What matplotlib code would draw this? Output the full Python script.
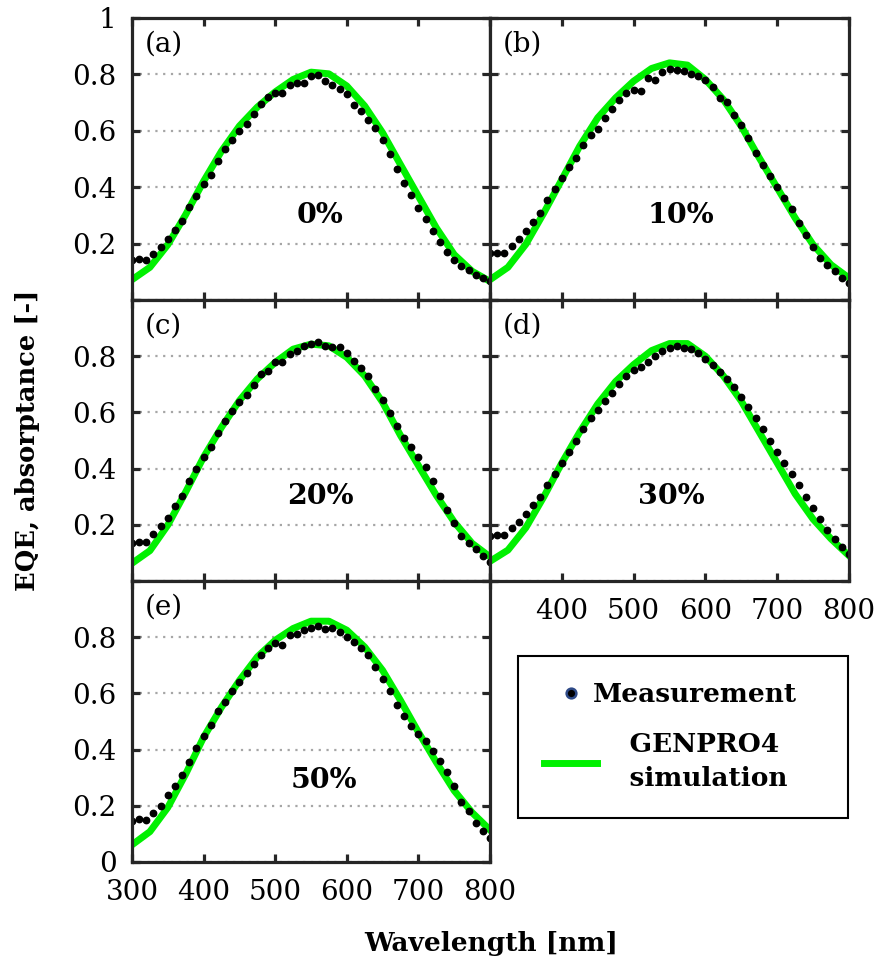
import matplotlib.pyplot as plt
from matplotlib.lines import Line2D

plt.rcParams['font.family'] = ['DejaVu Serif']

# wavelength grids [nm]
wl_meas = list(range(300, 801, 10))
wl_sim = list(range(300, 801, 25))

# measured EQE (dots)
meas_0 = [0.141, 0.144, 0.141, 0.163, 0.187, 0.217, 0.249, 0.280, 0.330, 0.368,
          0.413, 0.443, 0.492, 0.535, 0.568, 0.600, 0.625, 0.659, 0.695, 0.721,
          0.735, 0.733, 0.761, 0.770, 0.768, 0.793, 0.798, 0.778, 0.761, 0.750,
          0.730, 0.693, 0.669, 0.639, 0.609, 0.566, 0.516, 0.464, 0.414, 0.374,
          0.328, 0.286, 0.246, 0.205, 0.169, 0.142, 0.120, 0.105, 0.088, 0.077,
          0.066]
meas_10 = [0.166, 0.168, 0.168, 0.191, 0.215, 0.246, 0.277, 0.310, 0.356, 0.393,
           0.433, 0.472, 0.503, 0.551, 0.585, 0.607, 0.647, 0.679, 0.709, 0.733,
           0.746, 0.741, 0.786, 0.781, 0.808, 0.818, 0.817, 0.812, 0.802, 0.795,
           0.779, 0.756, 0.717, 0.703, 0.656, 0.619, 0.576, 0.523, 0.479, 0.440,
           0.399, 0.361, 0.323, 0.272, 0.231, 0.189, 0.150, 0.125, 0.102, 0.077,
           0.060]
meas_20 = [0.136, 0.139, 0.139, 0.167, 0.195, 0.225, 0.266, 0.301, 0.355, 0.400,
           0.440, 0.476, 0.527, 0.571, 0.605, 0.636, 0.663, 0.697, 0.735, 0.748,
           0.781, 0.779, 0.807, 0.817, 0.835, 0.843, 0.849, 0.838, 0.831, 0.833,
           0.812, 0.783, 0.759, 0.730, 0.683, 0.644, 0.598, 0.551, 0.509, 0.476,
           0.440, 0.405, 0.356, 0.303, 0.251, 0.206, 0.161, 0.136, 0.113, 0.089,
           0.069]
meas_30 = [0.160, 0.165, 0.165, 0.190, 0.210, 0.240, 0.270, 0.300, 0.340, 0.380,
           0.420, 0.460, 0.500, 0.540, 0.580, 0.610, 0.640, 0.670, 0.700, 0.730,
           0.750, 0.760, 0.780, 0.800, 0.820, 0.830, 0.835, 0.830, 0.825, 0.810,
           0.790, 0.770, 0.745, 0.720, 0.690, 0.655, 0.620, 0.580, 0.540, 0.500,
           0.460, 0.420, 0.380, 0.340, 0.300, 0.260, 0.220, 0.180, 0.150, 0.120,
           0.095]
meas_50 = [0.145, 0.152, 0.150, 0.176, 0.200, 0.238, 0.270, 0.308, 0.357, 0.406,
           0.450, 0.486, 0.536, 0.571, 0.607, 0.640, 0.671, 0.704, 0.735, 0.760,
           0.780, 0.773, 0.807, 0.813, 0.825, 0.833, 0.840, 0.829, 0.833, 0.819,
           0.799, 0.783, 0.763, 0.736, 0.694, 0.652, 0.608, 0.560, 0.520, 0.483,
           0.456, 0.431, 0.395, 0.360, 0.319, 0.271, 0.215, 0.182, 0.140, 0.111,
           0.087]

# GENPRO4 simulated absorptance (line)
sim_0 = [0.072, 0.116, 0.196, 0.303, 0.421, 0.528, 0.617, 0.684, 0.738, 0.782, 0.808,
         0.802, 0.759, 0.688, 0.593, 0.480, 0.368, 0.256, 0.161, 0.102, 0.066]
sim_10 = [0.072, 0.116, 0.198, 0.309, 0.427, 0.546, 0.646, 0.717, 0.776, 0.821, 0.841,
          0.833, 0.782, 0.711, 0.616, 0.504, 0.398, 0.291, 0.196, 0.125, 0.078]
sim_20 = [0.063, 0.108, 0.199, 0.317, 0.441, 0.547, 0.642, 0.719, 0.778, 0.825, 0.843,
          0.837, 0.796, 0.730, 0.636, 0.518, 0.411, 0.305, 0.210, 0.134, 0.086]
sim_30 = [0.070, 0.110, 0.190, 0.300, 0.420, 0.530, 0.630, 0.710, 0.770, 0.820, 0.845,
          0.845, 0.800, 0.730, 0.640, 0.530, 0.420, 0.310, 0.220, 0.150, 0.090]
sim_50 = [0.061, 0.108, 0.194, 0.313, 0.444, 0.551, 0.646, 0.730, 0.789, 0.831, 0.857,
          0.857, 0.825, 0.765, 0.682, 0.575, 0.462, 0.355, 0.254, 0.176, 0.114]

panel_tags = ['(a)', '(b)', '(c)', '(d)', '(e)']
porosity = ['0%', '10%', '20%', '30%', '50%']
y_ticks = [0, 0.2, 0.4, 0.6, 0.8, 1.0]
x_ticks = [300, 400, 500, 600, 700, 800]

W, H = 882, 967
fig = plt.figure(figsize=(W / 100, H / 100), dpi=100)

def px_axes(x0, y0, x1, y1):
    return fig.add_axes([x0 / W, 1 - y1 / H, (x1 - x0) / W, (y1 - y0) / H])

dark = '#262626'
green = '#00F000'

boxes = [(132, 18, 490, 300), (490, 18, 849, 300),
         (132, 300, 490, 581), (490, 300, 849, 581),
         (132, 581, 490, 862)]
meas = [meas_0, meas_10, meas_20, meas_30, meas_50]
sims = [sim_0, sim_10, sim_20, sim_30, sim_50]
pct_pos = [(0.525, 0.30), (0.532, 0.30), (0.525, 0.30), (0.505, 0.30), (0.535, 0.29)]

for i, box in enumerate(boxes):
    ax = px_axes(*box)
    ax.plot(wl_sim, sims[i], color=green, lw=5, zorder=2)
    ax.plot(wl_meas, meas[i], 'o', color='black', ms=4.6, zorder=3)
    ax.set_xlim(300, 800)
    ax.set_ylim(0, 1)
    ax.set_axisbelow(True)
    ax.grid(axis='y', color='#a6a6a6', lw=1.6, linestyle=(0, (1, 2.5)))
    for sp in ax.spines.values():
        sp.set_color(dark)
        sp.set_linewidth(2.3)
        sp.set_zorder(5)
    ax.tick_params(direction='in', top=True, right=True, length=6, width=2.3,
                   color=dark, labelsize=20, pad=11)
    ax.set_yticks(y_ticks)
    ax.set_xticks(x_ticks)
    if i == 0:
        ax.set_yticklabels(['', '0.2', '0.4', '0.6', '0.8', '1'])
    elif i == 2:
        ax.set_yticklabels(['', '0.2', '0.4', '0.6', '0.8', ''])
    elif i == 4:
        ax.set_yticklabels(['0', '0.2', '0.4', '0.6', '0.8', ''])
    else:
        ax.tick_params(labelleft=False)
    if i == 4:
        ax.set_xticklabels([str(v) for v in x_ticks])
        ax.tick_params(axis='x', pad=12)
    elif i == 3:
        ax.set_xticklabels([''] + [str(v) for v in x_ticks[1:]])
        ax.tick_params(axis='x', pad=12)
    else:
        ax.tick_params(labelbottom=False)
    ax.text(0.035, 0.955, panel_tags[i], transform=ax.transAxes, fontsize=20,
            va='top', ha='left')
    ax.text(pct_pos[i][0], pct_pos[i][1], porosity[i], transform=ax.transAxes,
            fontsize=20.5, fontweight='bold', ha='center', va='center')

fig.text(28 / W, 1 - 440 / H, 'EQE, absorptance [-]', rotation=90, fontsize=18.5,
         fontweight='bold', ha='center', va='center')
fig.text(491 / W, 1 - 943 / H, 'Wavelength [nm]', fontsize=19,
         fontweight='bold', ha='center', va='center')

handles = [Line2D([], [], marker='o', ls='none', mfc='black', mec='#2E4A87',
                  ms=7, mew=1.8),
           Line2D([], [], color=green, lw=5)]
labels = ['Measurement', '    GENPRO4\n    simulation']
leg = fig.legend(handles, labels, loc='upper left',
                 bbox_to_anchor=(518 / W, 1 - 823 / H, 330 / W, 167 / H),
                 mode='expand',
                 prop={'weight': 'bold', 'size': 19}, frameon=True,
                 fancybox=False, edgecolor='black', framealpha=1,
                 borderpad=1.0, labelspacing=0.95, handlelength=2.0,
                 handletextpad=-0.15, borderaxespad=0)
leg.get_texts()[1].set_linespacing(1.45)
leg.get_frame().set_linewidth(1.5)

fig.savefig('out.png', dpi=100)
